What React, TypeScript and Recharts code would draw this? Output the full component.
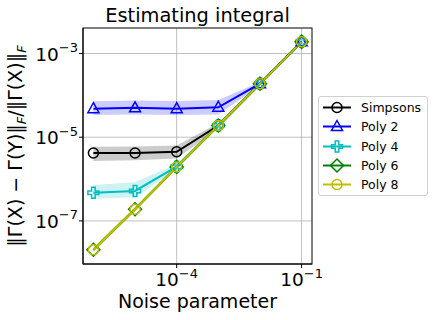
import {
  ComposedChart,
  Line,
  Area,
  XAxis,
  YAxis,
  CartesianGrid,
} from "recharts";

// noise levels on the x axis
const noise = [1e-6, 1e-5, 1e-4, 1e-3, 1e-2, 1e-1];

// median relative error per method, with a lower / upper band
const simpsons = [4.2e-6, 4.2e-6, 4.5e-6, 1.9e-5, 1.9e-4, 1.9e-3];
const simpsonsLo = [2.7e-6, 2.8e-6, 3.1e-6, 1.6e-5, 1.7e-4, 1.8e-3];
const simpsonsHi = [5.9e-6, 6.0e-6, 6.3e-6, 2.2e-5, 2.1e-4, 2.0e-3];

const poly2 = [4.8e-5, 5.05e-5, 4.8e-5, 5.2e-5, 1.9e-4, 1.9e-3];
const poly2Lo = [3.4e-5, 3.5e-5, 3.4e-5, 3.5e-5, 1.7e-4, 1.8e-3];
const poly2Hi = [7.2e-5, 7.5e-5, 7.3e-5, 7.7e-5, 2.1e-4, 2.0e-3];

const poly4 = [4.7e-7, 5.2e-7, 1.97e-6, 1.9e-5, 1.9e-4, 1.9e-3];
const poly4Lo = [3.4e-7, 3.7e-7, 1.7e-6, 1.7e-5, 1.75e-4, 1.8e-3];
const poly4Hi = [7.2e-7, 8.4e-7, 2.3e-6, 2.1e-5, 2.05e-4, 2.0e-3];

const poly6 = [2.05e-8, 1.9e-7, 1.95e-6, 1.9e-5, 1.9e-4, 1.9e-3];
const poly6Lo = [1.8e-8, 1.7e-7, 1.75e-6, 1.7e-5, 1.75e-4, 1.8e-3];
const poly6Hi = [2.3e-8, 2.15e-7, 2.2e-6, 2.1e-5, 2.05e-4, 2.0e-3];

const poly8 = [2.05e-8, 1.9e-7, 1.95e-6, 1.9e-5, 1.9e-4, 1.9e-3];
const poly8Lo = [1.75e-8, 1.65e-7, 1.7e-6, 1.7e-5, 1.75e-4, 1.8e-3];
const poly8Hi = [2.4e-8, 2.2e-7, 2.25e-6, 2.15e-5, 2.05e-4, 2.0e-3];

const xTicks = [1e-4, 1e-1];
const yTicks = [1e-7, 1e-5, 1e-3];

const FONT = "DejaVu Sans";
const X_DOMAIN = [Math.pow(10, -6.25), Math.pow(10, -0.75)];
const Y_DOMAIN = [Math.pow(10, -8.03), Math.pow(10, -2.39)];

// plot box (chart margins + axis sizes)
const BOX = { left: 83, top: 28, right: 312, bottom: 264 };

type Marker = "circle" | "triangle" | "plus" | "diamond";

const series = [
  { key: "simpsons", name: "Simpsons", color: "#000000", marker: "circle" as Marker, vals: simpsons, lo: simpsonsLo, hi: simpsonsHi },
  { key: "poly2", name: "Poly 2", color: "#0000ff", marker: "triangle" as Marker, vals: poly2, lo: poly2Lo, hi: poly2Hi },
  { key: "poly4", name: "Poly 4", color: "#00bfbf", marker: "plus" as Marker, vals: poly4, lo: poly4Lo, hi: poly4Hi },
  { key: "poly6", name: "Poly 6", color: "#008000", marker: "diamond" as Marker, vals: poly6, lo: poly6Lo, hi: poly6Hi },
  { key: "poly8", name: "Poly 8", color: "#bfbf00", marker: "circle" as Marker, vals: poly8, lo: poly8Lo, hi: poly8Hi },
];

const data = noise.map((n, i) => {
  const row: Record<string, any> = { noise: n };
  series.forEach((s) => {
    row[s.key] = s.vals[i];
    row[s.key + "Band"] = [s.lo[i], s.hi[i]];
  });
  return row;
});

function MarkerShape({ type, x, y, color }: { type: Marker; x: number; y: number; color: string }) {
  const common = { fill: "none", stroke: color, strokeWidth: 1.5 };
  if (type === "circle") return <circle cx={x} cy={y} r={5} {...common} />;
  if (type === "triangle")
    return <polygon points={`${x},${y - 6} ${x + 5.5},${y + 4} ${x - 5.5},${y + 4}`} {...common} />;
  if (type === "diamond")
    return <polygon points={`${x},${y - 6.5} ${x + 6.5},${y} ${x},${y + 6.5} ${x - 6.5},${y}`} {...common} />;
  // filled plus marker outline
  const a = 1.8;
  const b = 5.5;
  const pts = [
    [-a, -b], [a, -b], [a, -a], [b, -a], [b, a], [a, a],
    [a, b], [-a, b], [-a, a], [-b, a], [-b, -a], [-a, -a],
  ]
    .map(([px, py]) => `${x + px},${y + py}`)
    .join(" ");
  return <polygon points={pts} {...common} />;
}

function sup(v: number) {
  const e = Math.round(Math.log10(v));
  return (e < 0 ? "\u2212" : "") + Math.abs(e);
}

const XTick = (props: any) => {
  const { x, y, payload } = props;
  return (
    <text x={x} y={y + 18} textAnchor="middle" fontFamily={FONT} fontSize={18.5} fill="#000">
      <tspan>10</tspan>
      <tspan dy={-8.5} fontSize={13}>{sup(payload.value)}</tspan>
    </text>
  );
};

const YTick = (props: any) => {
  const { x, y, payload } = props;
  return (
    <text x={x - 1} y={y + 7} textAnchor="end" fontFamily={FONT} fontSize={18.5} fill="#000">
      <tspan>10</tspan>
      <tspan dy={-8.5} fontSize={13}>{sup(payload.value)}</tspan>
    </text>
  );
};

const LegendBox = () => (
  <div
    style={{
      position: "absolute",
      left: 318,
      top: 96,
      border: "1px solid #d0d0d0",
      borderRadius: 3,
      background: "rgba(255,255,255,0.8)",
      width: 108,
      padding: "1px 0",
      fontFamily: FONT,
      fontSize: 12.5,
      lineHeight: "19.3px",
    }}
  >
    {series.map((s) => (
      <div key={s.key} style={{ display: "flex", alignItems: "center", height: 19.3 }}>
        <svg width={38} height={19} style={{ display: "block" }}>
          <line x1={4} x2={32} y1={9.5} y2={9.5} stroke={s.color} strokeWidth={2} />
          <MarkerShape type={s.marker} x={18} y={9.5} color={s.color} />
        </svg>
        <span style={{ marginLeft: 4, color: "#000" }}>{s.name}</span>
      </div>
    ))}
  </div>
);

export default function App() {
  return (
    <div style={{ position: "absolute", left: 0, top: 0, width: 436, height: 320, background: "#fff" }}>
      <ComposedChart
        width={436}
        height={320}
        data={data}
        margin={{ top: BOX.top, right: 436 - BOX.right, bottom: 0, left: 0 }}
      >
        <CartesianGrid
          stroke="#b0b0b0"
          strokeWidth={0.8}
          horizontalValues={yTicks}
          verticalValues={xTicks}
        />
        <XAxis
          dataKey="noise"
          type="number"
          scale="log"
          domain={X_DOMAIN}
          allowDataOverflow
          ticks={xTicks}
          tick={<XTick />}
          tickSize={4}
          tickMargin={0}
          height={320 - BOX.bottom}
          tickLine={{ stroke: "#000" }}
          axisLine={{ stroke: "#000" }}
        />
        <YAxis
          type="number"
          scale="log"
          domain={Y_DOMAIN}
          allowDataOverflow
          ticks={yTicks}
          tick={<YTick />}
          tickSize={4}
          tickMargin={0}
          width={BOX.left}
          tickLine={{ stroke: "#000" }}
          axisLine={{ stroke: "#000" }}
        />
        {series.map((s) => (
          <Area
            key={s.key + "Band"}
            type="linear"
            dataKey={s.key + "Band"}
            stroke="none"
            fill={s.color}
            fillOpacity={0.2}
            isAnimationActive={false}
            activeDot={false}
          />
        ))}
        {series.map((s) => (
          <Line
            key={s.key}
            type="linear"
            dataKey={s.key}
            name={s.name}
            stroke={s.color}
            strokeWidth={2}
            isAnimationActive={false}
            activeDot={false}
            dot={(p: any) => (
              <MarkerShape key={s.key + p.index} type={s.marker} x={p.cx} y={p.cy} color={s.color} />
            )}
          />
        ))}
      </ComposedChart>
      <LegendBox />
      <svg
        width={436}
        height={320}
        style={{ position: "absolute", left: 0, top: 0, pointerEvents: "none" }}
      >
        {/* axes frame */}
        <rect
          x={BOX.left}
          y={BOX.top}
          width={BOX.right - BOX.left}
          height={BOX.bottom - BOX.top}
          fill="none"
          stroke="#000"
          strokeWidth={1}
        />
        <text x={197.5} y={21.5} textAnchor="middle" fontFamily={FONT} fontSize={19.4} fill="#000">
          Estimating integral
        </text>
        <text x={197.5} y={308} textAnchor="middle" fontFamily={FONT} fontSize={19} fill="#000">
          Noise parameter
        </text>
        <text
          transform="translate(22,146) rotate(-90)"
          textAnchor="middle"
          fontFamily={FONT}
          fontSize={19}
          fill="#000"
        >
          <tspan>{"\u2016\u0393(X) \u2212 \u0393(Y)\u2016"}</tspan>
          <tspan dy={4} fontSize={13} fontStyle="italic">F</tspan>
          <tspan dy={-4}>{"/\u2016\u0393(X)\u2016"}</tspan>
          <tspan dy={4} fontSize={13} fontStyle="italic">F</tspan>
        </text>
      </svg>
    </div>
  );
}
